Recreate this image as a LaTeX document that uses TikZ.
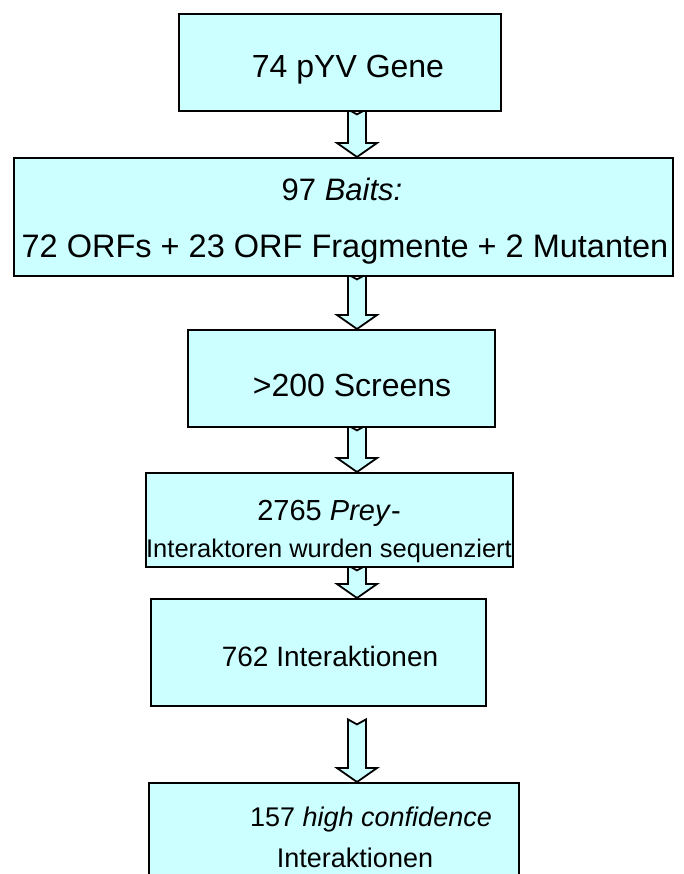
\documentclass[tikz,border=0pt]{standalone}
\usepackage{fontspec}
\setmainfont{Liberation Sans}
\usetikzlibrary{calc}
\pgfdeclarelayer{bg}
\pgfsetlayers{bg,main}
\definecolor{boxcyan}{HTML}{CCFFFF}
\tikzset{
  box/.style={draw=black, line width=2.4pt, fill=boxcyan, anchor=north west, inner sep=0pt},
  lbl/.style={anchor=base, inner sep=0pt, text=black},
  barrow/.style={draw=black, line width=1.8pt, fill=boxcyan, line join=miter},
}
\newcommand\blockarrow[3]{%
  \path[barrow] let \p1=(#1.south -| ax), \p2=(#2.north -| ax) in
    (\x1-9pt,\y1+#3) -- (\x1,\y1+#3-5pt) -- (\x1+9pt,\y1+#3) --
    (\x1+9pt,\y2+14pt) -- (\x1+20pt,\y2+14pt) -- (\x2,\y2) --
    (\x1-20pt,\y2+14pt) -- (\x1-9pt,\y2+14pt) -- cycle;}
\begin{document}
\begin{tikzpicture}[x=1pt,y=1pt]
\clip (0,0) rectangle (683,-874);
\coordinate (ax) at (357,0);
% boxes
\node[box, minimum width=322pt, minimum height=97pt] (b1) at (178,-13) {};
\node[box, minimum width=659pt, minimum height=118pt] (b2) at (13,-157) {};
\node[box, minimum width=307pt, minimum height=97pt] (b3) at (187,-329) {};
\node[box, minimum width=367pt, minimum height=94pt] (b4) at (145,-472) {};
\node[box, minimum width=335pt, minimum height=107pt] (b5) at (150,-598) {};
\node[box, minimum width=370pt, minimum height=120pt] (b6) at (148,-782) {};
% texts
\node[lbl, font=\fontsize{32}{38}\selectfont] (t1) at (348,-78) {74 pYV Gene};
\node[lbl, font=\fontsize{31}{37}\selectfont] (t2a) at (342,-201) {97 \textit{Baits:}};
\node[lbl, font=\fontsize{32.5}{38}\selectfont] (t2b) at (345,-258) {72 ORFs + 23 ORF Fragmente + 2 Mutanten};
\node[lbl, font=\fontsize{32}{38}\selectfont] (t3) at (352,-396) {>200 Screens};
\node[lbl, font=\fontsize{29}{34}\selectfont] (t4a) at (329,-520) {2765 \textit{Prey}-};
\node[lbl, font=\fontsize{25.5}{30}\selectfont] (t4b) at (329,-557) {Interaktoren wurden sequenziert};
\node[lbl, font=\fontsize{28}{33}\selectfont] (t5) at (330,-666) {762 Interaktionen};
\node[lbl, font=\fontsize{27}{32}\selectfont] (t6a) at (371,-826) {157 \textit{high confidence}};
\node[lbl, font=\fontsize{27}{32}\selectfont] (t6b) at (355,-867) {Interaktionen};
% background and arrows
\begin{pgfonlayer}{bg}
\fill[white] (0,0) rectangle (683,-874);
\blockarrow{b1}{b2}{3pt}
\blockarrow{b2}{b3}{3pt}
\blockarrow{b3}{b4}{3pt}
\blockarrow{b4}{b5}{3pt}
\blockarrow{b5}{b6}{-12pt}
\end{pgfonlayer}
\end{tikzpicture}
\end{document}
